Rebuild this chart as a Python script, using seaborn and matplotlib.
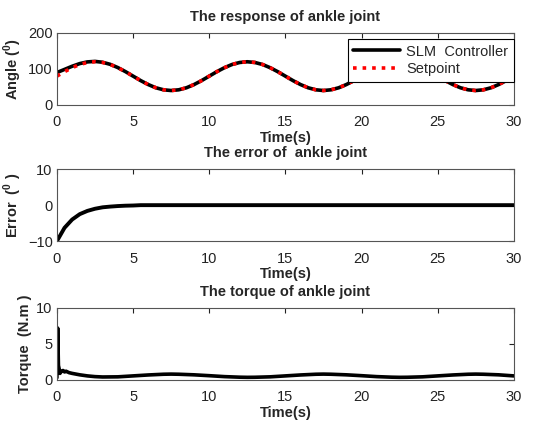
import numpy as np
import matplotlib
matplotlib.use("Agg")
import matplotlib.pyplot as plt
import seaborn as sns

# time grid for angle / error (s)
time = np.arange(0, 30.5, 0.5)

setpoint = [80, 92.4, 103.5, 112.4, 118, 120, 118, 112.4, 103.5, 92.4,
            80, 67.6, 56.5, 47.6, 42, 40, 42, 47.6, 56.5, 67.6,
            80, 92.4, 103.5, 112.4, 118, 120, 118, 112.4, 103.5, 92.4,
            80, 67.6, 56.5, 47.6, 42, 40, 42, 47.6, 56.5, 67.6,
            80, 92.4, 103.5, 112.4, 118, 120, 118, 112.4, 103.5, 92.4,
            80, 67.6, 56.5, 47.6, 42, 40, 42, 47.6, 56.5, 67.6,
            80]

controller = [90, 98.7, 107.5, 114.9, 119.6, 121, 118.6, 112.8, 103.8, 92.6,
              80.1, 67.6, 56.5, 47.6, 42, 40, 42, 47.6, 56.5, 67.6,
              80, 92.4, 103.5, 112.4, 118, 120, 118, 112.4, 103.5, 92.4,
              80, 67.6, 56.5, 47.6, 42, 40, 42, 47.6, 56.5, 67.6,
              80, 92.4, 103.5, 112.4, 118, 120, 118, 112.4, 103.5, 92.4,
              80, 67.6, 56.5, 47.6, 42, 40, 42, 47.6, 56.5, 67.6,
              80]

error = [-10, -6.3, -4, -2.5, -1.6, -1, -0.6, -0.4, -0.25, -0.15, -0.1] + [0.0] * 50

torque_time = [0, 0.05, 0.1, 0.15, 0.2, 0.3, 0.4, 0.5, 0.6, 0.8,
               1.0, 1.5, 2, 2.5, 3, 4, 5, 6, 7, 7.5,
               8, 9, 10, 11, 12, 12.5, 13, 14, 15, 16,
               17, 17.5, 18, 19, 20, 21, 22, 22.5, 23, 24,
               25, 26, 27, 27.5, 28, 29, 30]
torque = [0.3, 7.2, 2.0, 1.5, 0.9, 1.2, 1.3, 1.1, 1.2, 1.0,
          0.9, 0.7, 0.55, 0.45, 0.4, 0.42, 0.55, 0.68, 0.78, 0.8,
          0.78, 0.7, 0.58, 0.45, 0.37, 0.35, 0.36, 0.42, 0.55, 0.68,
          0.78, 0.8, 0.78, 0.7, 0.58, 0.45, 0.37, 0.35, 0.36, 0.42,
          0.55, 0.68, 0.78, 0.8, 0.78, 0.7, 0.55]

x_ticks = [0, 5, 10, 15, 20, 25, 30]

sns.set_style("white")
plt.rcParams['font.family'] = ['Liberation Sans', 'DejaVu Sans']
plt.rcParams['mathtext.fontset'] = 'custom'
plt.rcParams['mathtext.bf'] = 'Liberation Sans:bold'
plt.rcParams['mathtext.rm'] = 'Liberation Sans:bold'

fig = plt.figure(figsize=(5.42, 4.23), dpi=100)
ax1 = fig.add_axes([0.105, 0.752, 0.843, 0.170])
ax2 = fig.add_axes([0.105, 0.430, 0.843, 0.170])
ax3 = fig.add_axes([0.105, 0.102, 0.843, 0.170])


def style_axis(ax, yticks, ylabel, title):
    ax.set_xlim(0, 30)
    ax.set_ylim(yticks[0], yticks[-1])
    ax.set_xticks(x_ticks)
    ax.set_yticks(yticks)
    ax.tick_params(direction='in', length=3.5, width=0.8, labelsize=10.5,
                   top=True, right=True, colors='#222222', pad=3)
    ax.tick_params(axis='x', pad=7.5)
    for s in ax.spines.values():
        s.set_color('#555555')
        s.set_linewidth(0.8)
    ax.set_xlabel('Time(s)', fontsize=10.5, fontweight='bold', labelpad=1)
    ax.set_ylabel(ylabel, fontsize=10.5, fontweight='bold', labelpad=3)
    ax.set_title(title, fontsize=10.5, fontweight='bold', pad=8.5)


sns.lineplot(x=time, y=controller, ax=ax1, color='black', linewidth=2.6,
             label='SLM  Controller')
sns.lineplot(x=time, y=setpoint, ax=ax1, color='red', linewidth=2.6,
             linestyle=':', label='Setpoint')
style_axis(ax1, [0, 100, 200], r'Angle ($^{0}$)', 'The response of ankle joint')
leg = ax1.legend(loc='upper right', bbox_to_anchor=(1.0, 0.92), fontsize=10.5,
                 handlelength=3.2, frameon=True, fancybox=False, framealpha=1,
                 borderaxespad=0, handletextpad=0.4, labelspacing=0.25,
                 borderpad=0.4)
leg.get_frame().set_edgecolor('black')
leg.get_frame().set_linewidth(0.8)

sns.lineplot(x=time, y=error, ax=ax2, color='black', linewidth=2.8, legend=False)
style_axis(ax2, [-10, 0, 10], r'Error  ($^{0}$ )', 'The error of  ankle joint')

sns.lineplot(x=torque_time, y=torque, ax=ax3, color='black', linewidth=2.6, legend=False)
style_axis(ax3, [0, 5, 10], 'Torque  (N.m )', 'The torque of ankle joint')

fig.savefig('out.png', dpi=100, facecolor='white')
